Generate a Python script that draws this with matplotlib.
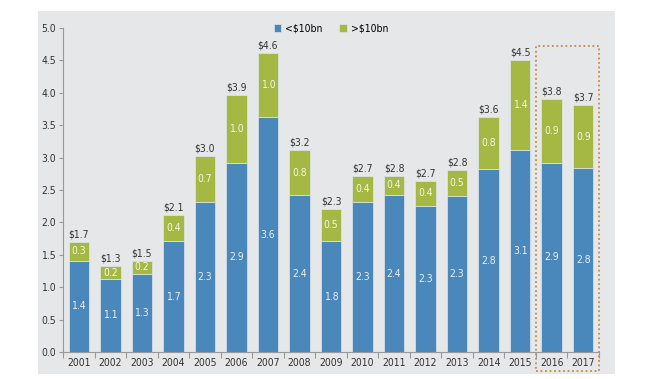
import matplotlib.pyplot as plt
from matplotlib.patches import Rectangle
from matplotlib import font_manager

years = ["2001", "2002", "2003", "2004", "2005", "2006", "2007", "2008", "2009",
         "2010", "2011", "2012", "2013", "2014", "2015", "2016", "2017"]
# bar heights as drawn
small = [1.41, 1.13, 1.21, 1.71, 2.31, 2.92, 3.62, 2.42, 1.71,
         2.32, 2.42, 2.26, 2.41, 2.82, 3.12, 2.92, 2.84]
large = [0.29, 0.19, 0.20, 0.41, 0.71, 1.04, 1.00, 0.69, 0.50,
         0.40, 0.30, 0.38, 0.40, 0.80, 1.39, 0.99, 0.97]
# printed labels
small_lbl = ["1.4", "1.1", "1.3", "1.7", "2.3", "2.9", "3.6", "2.4", "1.8",
             "2.3", "2.4", "2.3", "2.3", "2.8", "3.1", "2.9", "2.8"]
large_lbl = ["0.3", "0.2", "0.2", "0.4", "0.7", "1.0", "1.0", "0.8", "0.5",
             "0.4", "0.4", "0.4", "0.5", "0.8", "1.4", "0.9", "0.9"]
total_lbl = ["$1.7", "$1.3", "$1.5", "$2.1", "$3.0", "$3.9", "$4.6", "$3.2", "$2.3",
             "$2.7", "$2.8", "$2.7", "$2.8", "$3.6", "$4.5", "$3.8", "$3.7"]

# pick a narrow face if one is installed
font_file = None
for f in font_manager.fontManager.ttflist:
    if f.name == "Liberation Sans Narrow" and f.weight in (400, "normal") and f.style == "normal":
        font_file = f.fname
        break
if font_file is None:
    for f in font_manager.fontManager.ttflist:
        if "DejaVuSansCondensed.ttf" in f.fname:
            font_file = f.fname
            break
if font_file:
    fam = font_manager.FontProperties(fname=font_file).get_name()
    plt.rcParams['font.family'] = [fam, 'DejaVu Sans']
    if "Condensed" in font_file:
        plt.rcParams['font.stretch'] = 'condensed'

BLUE = "#4a87ba"
GREEN = "#a6b844"
PANEL = "#e6e7e9"
DARK = "#333333"
FS = 7.5

fig = plt.figure(figsize=(6.49, 3.79), dpi=100)
fig.patches.append(Rectangle((38 / 649, 1 - 374 / 379), (615 - 38) / 649, (374 - 11) / 379,
                             transform=fig.transFigure, facecolor=PANEL, edgecolor='none', zorder=-10))
ax = fig.add_axes([63 / 649, 1 - 352 / 379, (599 - 63) / 649, (352 - 28) / 379])
ax.patch.set_alpha(0)

x = list(range(len(years)))
w = 0.65
ax.bar(x, small, w, color=BLUE, edgecolor="#dfe6ee", linewidth=0.5, label="<$10bn")
ax.bar(x, large, w, bottom=small, color=GREEN, edgecolor="#dfe6ee", linewidth=0.5, label=">$10bn")

for i in x:
    ax.text(i, small[i] / 2, small_lbl[i], ha='center', va='center', color="#e9eff6", fontsize=FS)
    ax.text(i, small[i] + large[i] / 2, large_lbl[i], ha='center', va='center', color="#f4f6e6", fontsize=FS)
    ax.text(i, small[i] + large[i] + 0.04, total_lbl[i], ha='center', va='bottom', color=DARK, fontsize=FS)

# dotted box round the last two years
ax.add_patch(Rectangle((14.5, -0.29), 2.0, 4.72 + 0.29, fill=False, edgecolor="#c98a3e",
                       linestyle=(0, (1, 1.5)), linewidth=1.3, clip_on=False))

ax.set_xlim(-0.5, 16.5)
ax.set_ylim(0, 5.0)
ax.set_yticks([i * 0.5 for i in range(11)])
ax.set_yticklabels([f"{i * 0.5:.1f}" for i in range(11)], fontsize=FS, color=DARK)
ax.set_xticks([i - 0.5 for i in range(len(years) + 1)])
ax.set_xticklabels([])
ax.set_xticks(x, minor=True)
ax.set_xticklabels(years, minor=True, fontsize=FS, color=DARK)
ax.tick_params(axis='x', which='minor', length=0, pad=4)
ax.tick_params(axis='x', which='major', length=4, color="#999999")
ax.tick_params(axis='y', length=3, color="#999999", pad=2)

for s in ['top', 'right']:
    ax.spines[s].set_visible(False)
ax.spines['left'].set_color("#999999")
ax.spines['bottom'].set_color("#999999")

ax.legend(loc='center', bbox_to_anchor=(0.5, 0.997), ncol=2, frameon=False, fontsize=FS,
          handlelength=0.7, handleheight=0.8, columnspacing=1.6, handletextpad=0.4)

plt.savefig("out.png", dpi=100)
